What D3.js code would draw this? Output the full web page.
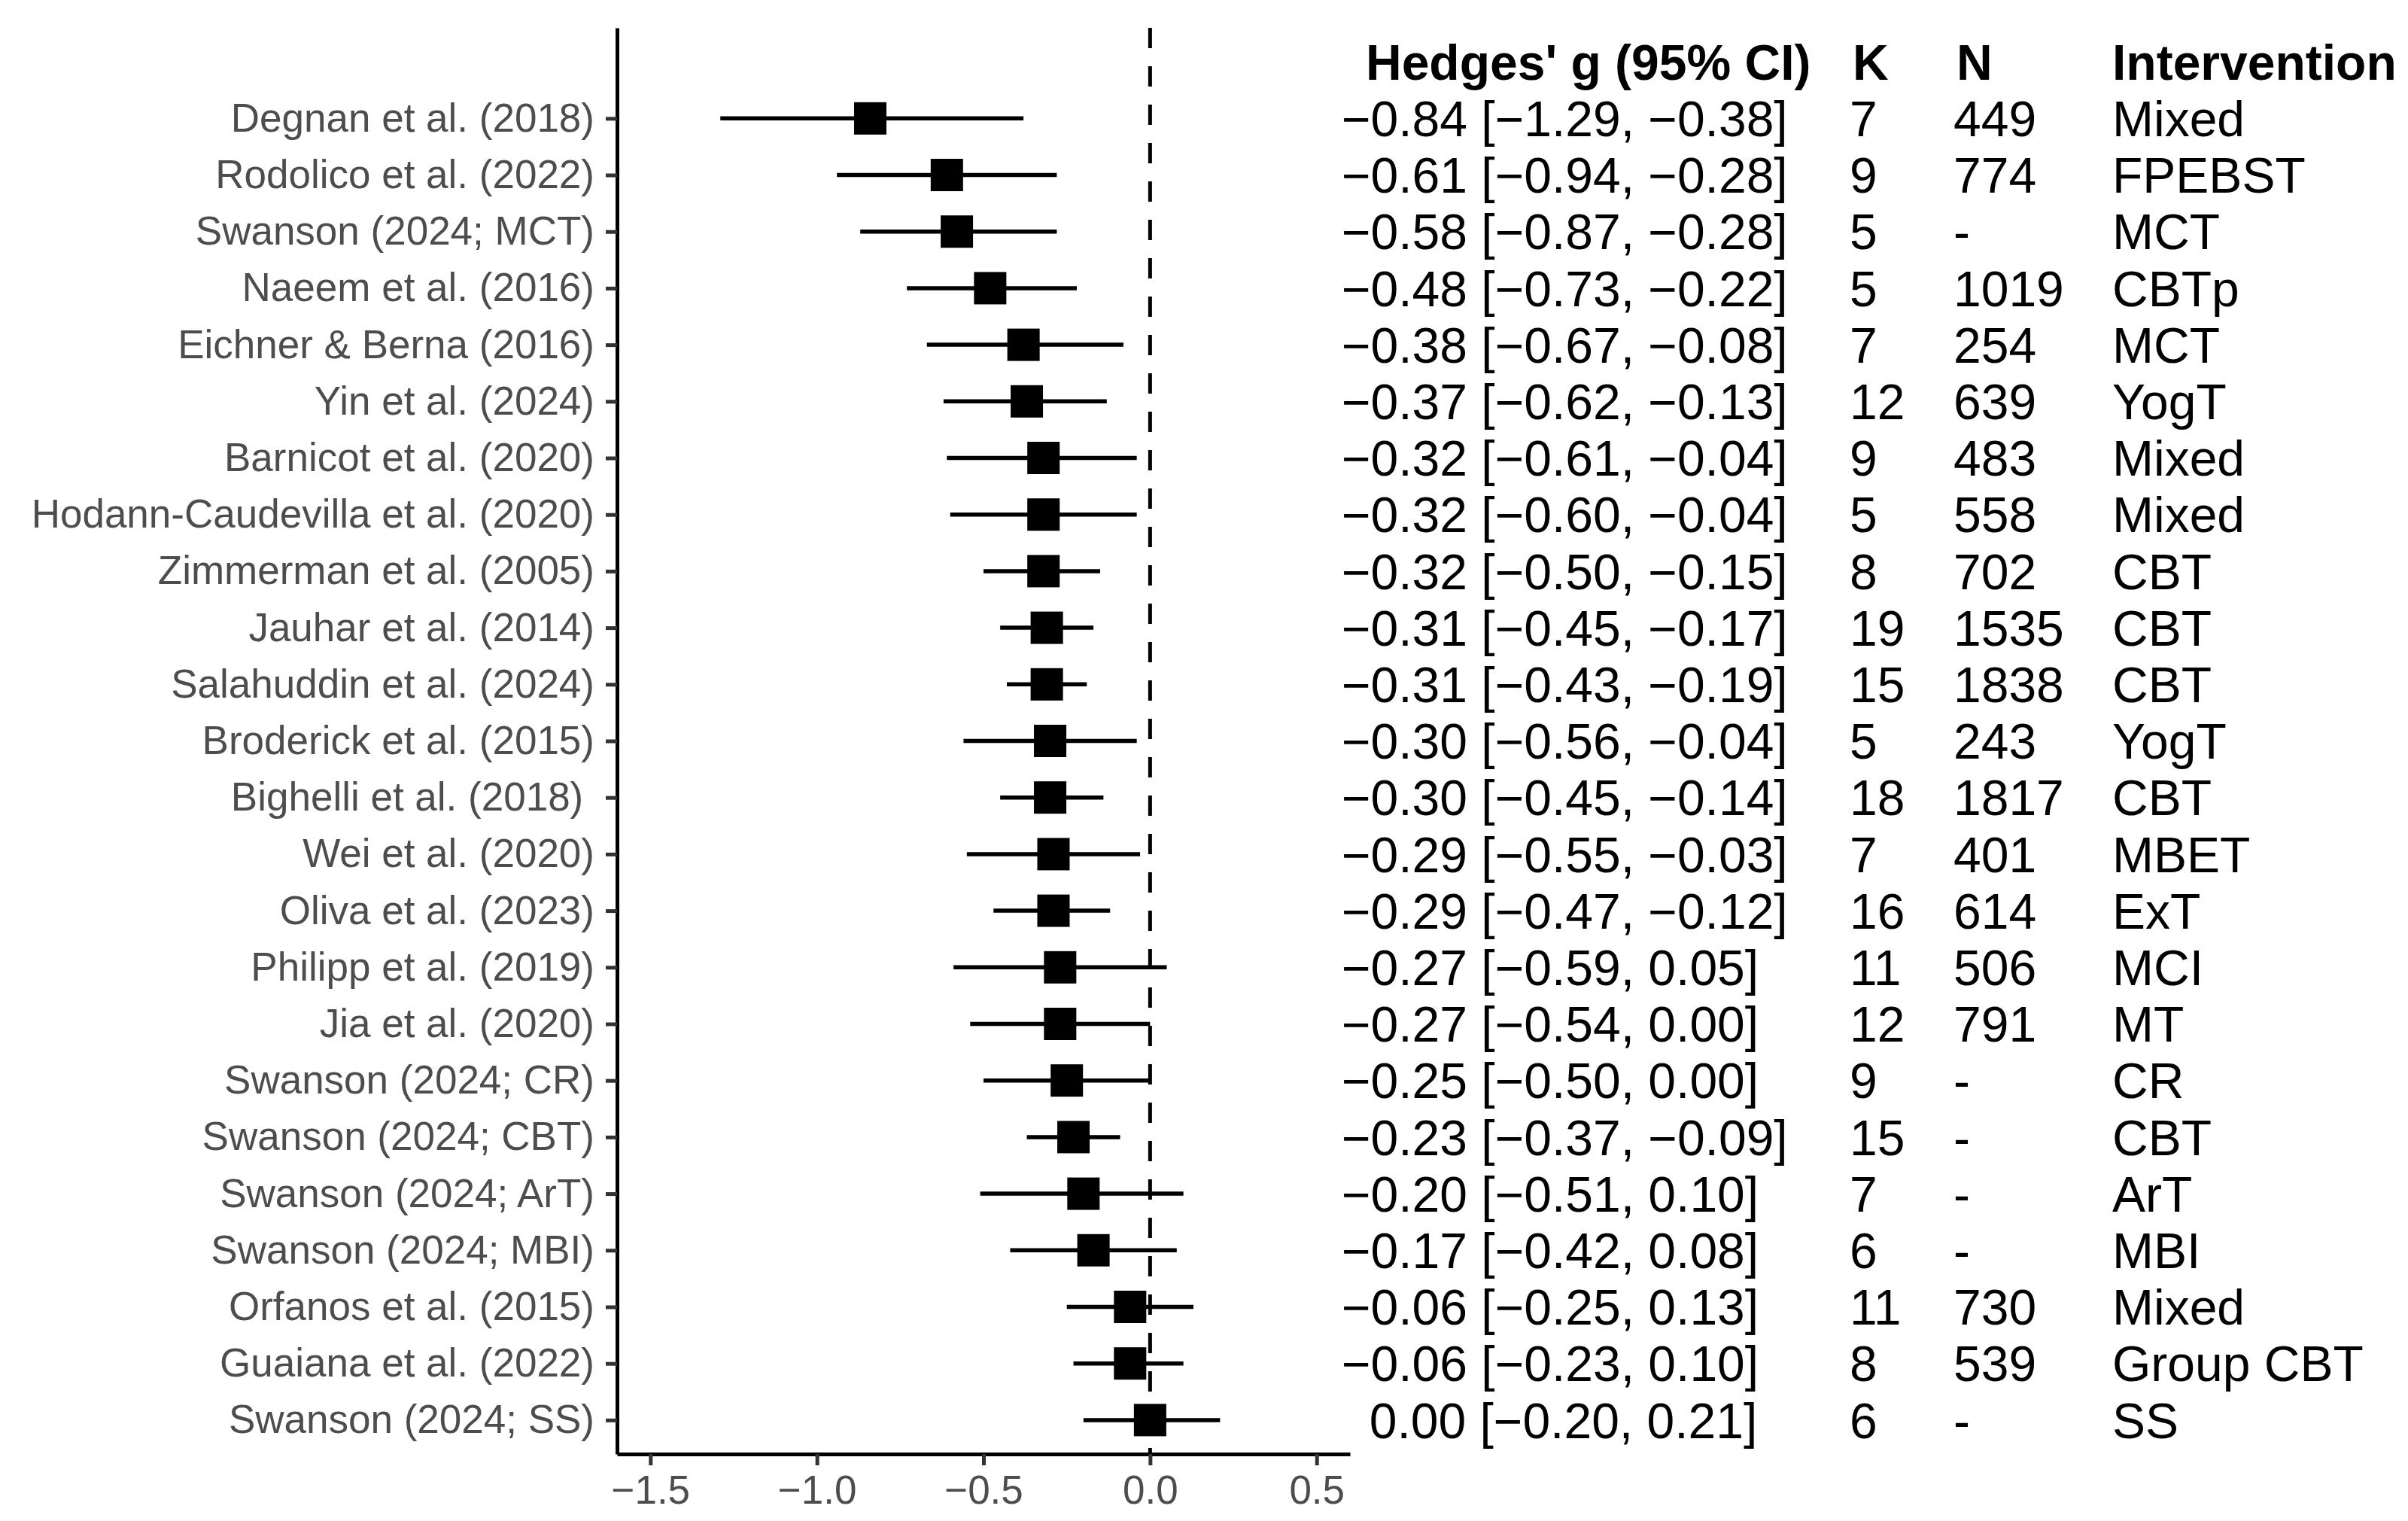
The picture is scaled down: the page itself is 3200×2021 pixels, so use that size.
<!DOCTYPE html>
<html>
<head>
<meta charset="utf-8">
<script src="https://cdn.jsdelivr.net/npm/d3@7"></script>
<style>
  html, body { margin: 0; padding: 0; background: #fff; }
  svg text { font-family: "Liberation Sans", Arial, Helvetica, sans-serif; }
</style>
</head>
<body>
<svg id="chart" width="3200" height="2021"></svg>
<script>
// Forest plot: Hedges' g per meta-analysis, with a side table

const studies = [
  "Degnan et al. (2018)", "Rodolico et al. (2022)", "Swanson (2024; MCT)",
  "Naeem et al. (2016)", "Eichner & Berna (2016)", "Yin et al. (2024)",
  "Barnicot et al. (2020)", "Hodann-Caudevilla et al. (2020)", "Zimmerman et al. (2005)",
  "Jauhar et al. (2014)", "Salahuddin et al. (2024)", "Broderick et al. (2015)",
  "Bighelli et al. (2018) ", "Wei et al. (2020)", "Oliva et al. (2023)",
  "Philipp et al. (2019)", "Jia et al. (2020)", "Swanson (2024; CR)",
  "Swanson (2024; CBT)", "Swanson (2024; ArT)", "Swanson (2024; MBI)",
  "Orfanos et al. (2015)", "Guaiana et al. (2022)", "Swanson (2024; SS)"
];

const estimate = [-0.84, -0.61, -0.58, -0.48, -0.38, -0.37, -0.32, -0.32, -0.32, -0.31, -0.31, -0.30,
                  -0.30, -0.29, -0.29, -0.27, -0.27, -0.25, -0.23, -0.20, -0.17, -0.06, -0.06, 0.00];
const lower = [-1.29, -0.94, -0.87, -0.73, -0.67, -0.62, -0.61, -0.60, -0.50, -0.45, -0.43, -0.56,
               -0.45, -0.55, -0.47, -0.59, -0.54, -0.50, -0.37, -0.51, -0.42, -0.25, -0.23, -0.20];
const upper = [-0.38, -0.28, -0.28, -0.22, -0.08, -0.13, -0.04, -0.04, -0.15, -0.17, -0.19, -0.04,
               -0.14, -0.03, -0.12, 0.05, 0.00, 0.00, -0.09, 0.10, 0.08, 0.13, 0.10, 0.21];
const kCount = [7, 9, 5, 5, 7, 12, 9, 5, 8, 19, 15, 5, 18, 7, 16, 11, 12, 9, 15, 7, 6, 11, 8, 6];
const nCount = ["449", "774", "-", "1019", "254", "639", "483", "558", "702", "1535", "1838", "243",
                "1817", "401", "614", "506", "791", "-", "-", "-", "-", "730", "539", "-"];
const intervention = ["Mixed", "FPEBST", "MCT", "CBTp", "MCT", "YogT", "Mixed", "Mixed", "CBT", "CBT",
                      "CBT", "YogT", "CBT", "MBET", "ExT", "MCI", "MT", "CR", "CBT", "ArT", "MBI",
                      "Mixed", "Group CBT", "SS"];

const xTicks = [-1.5, -1.0, -0.5, 0.0, 0.5];
const headers = ["Hedges' g (95% CI)", "K", "N", "Intervention"];

const HEADER_KEY = "__header__";

const svg = d3.select("#chart");
const fmt = d3.format(".2f");   // d3 v7 uses the proper minus sign

const panel = { left: 820, right: 1794, top: 37, bottom: 1932 };

const x = d3.scaleLinear()
  .domain([-1.6, 0.6])
  .range([panel.left, panel.right]);

const y = d3.scalePoint()
  .domain([HEADER_KEY].concat(studies))
  .range([panel.top, panel.bottom])
  .padding(0.6);

// zero reference line
svg.append("line")
  .attr("x1", x(0)).attr("x2", x(0))
  .attr("y1", panel.top).attr("y2", panel.bottom)
  .attr("stroke", "#000")
  .attr("stroke-width", 5)
  .attr("stroke-dasharray", "27,24");

// y axis
const yAxis = svg.append("g")
  .attr("transform", `translate(${panel.left},0)`)
  .call(d3.axisLeft(y).tickValues(studies).tickSize(15).tickSizeOuter(0).tickPadding(15));
yAxis.select(".domain").attr("stroke", "#000").attr("stroke-width", 5);
yAxis.selectAll(".tick line").attr("stroke", "#333").attr("stroke-width", 5);
yAxis.selectAll(".tick text")
  .attr("fill", "#4D4D4D")
  .attr("font-size", 53)
  .attr("font-family", null)
  .attr("xml:space", "preserve")
  .style("white-space", "pre");

// x axis
const xAxis = svg.append("g")
  .attr("transform", `translate(0,${panel.bottom})`)
  .call(d3.axisBottom(x).tickValues(xTicks).tickFormat(d3.format(".1f")).tickSize(15).tickSizeOuter(0).tickPadding(13));
xAxis.select(".domain").attr("stroke", "#000").attr("stroke-width", 5);
xAxis.selectAll(".tick line").attr("stroke", "#333").attr("stroke-width", 5);
xAxis.selectAll(".tick text")
  .attr("fill", "#4D4D4D")
  .attr("font-size", 53)
  .attr("font-family", null);

// confidence intervals and point estimates
const rows = studies.map((s, i) => ({
  study: s, est: estimate[i], lo: lower[i], hi: upper[i],
  k: kCount[i], n: nCount[i], type: intervention[i]
}));

svg.append("g").selectAll("line")
  .data(rows)
  .join("line")
  .attr("x1", d => x(d.lo))
  .attr("x2", d => x(d.hi))
  .attr("y1", d => y(d.study))
  .attr("y2", d => y(d.study))
  .attr("stroke", "#000")
  .attr("stroke-width", 5.5);

const sq = 43;
svg.append("g").selectAll("rect")
  .data(rows)
  .join("rect")
  .attr("x", d => x(d.est) - sq / 2)
  .attr("y", d => y(d.study) - sq / 2)
  .attr("width", sq)
  .attr("height", sq)
  .attr("fill", "#000");

// side table
const colX = [1783, 2458, 2596, 2807];
const headX = [1815, 2462, 2600, 2807];

svg.append("g").selectAll("text")
  .data(headers)
  .join("text")
  .attr("x", (d, i) => headX[i])
  .attr("y", y(HEADER_KEY))
  .attr("dy", "0.36em")
  .attr("font-size", 66)
  .attr("font-weight", "bold")
  .attr("fill", "#000")
  .text(d => d);

function ciText(d) {
  const e = d.est < 0 ? fmt(d.est) : "\u2007" + fmt(d.est);
  return `${e} [${fmt(d.lo)}, ${fmt(d.hi)}]`;
}

const table = svg.append("g");
const cells = [ciText, d => d.k, d => d.n, d => d.type];
cells.forEach((f, c) => {
  table.append("g").selectAll("text")
    .data(rows)
    .join("text")
    .attr("x", colX[c])
    .attr("y", d => y(d.study))
    .attr("dy", "0.36em")
    .attr("font-size", 66)
    .attr("fill", "#000")
    .text(f);
});
</script>
</body>
</html>
